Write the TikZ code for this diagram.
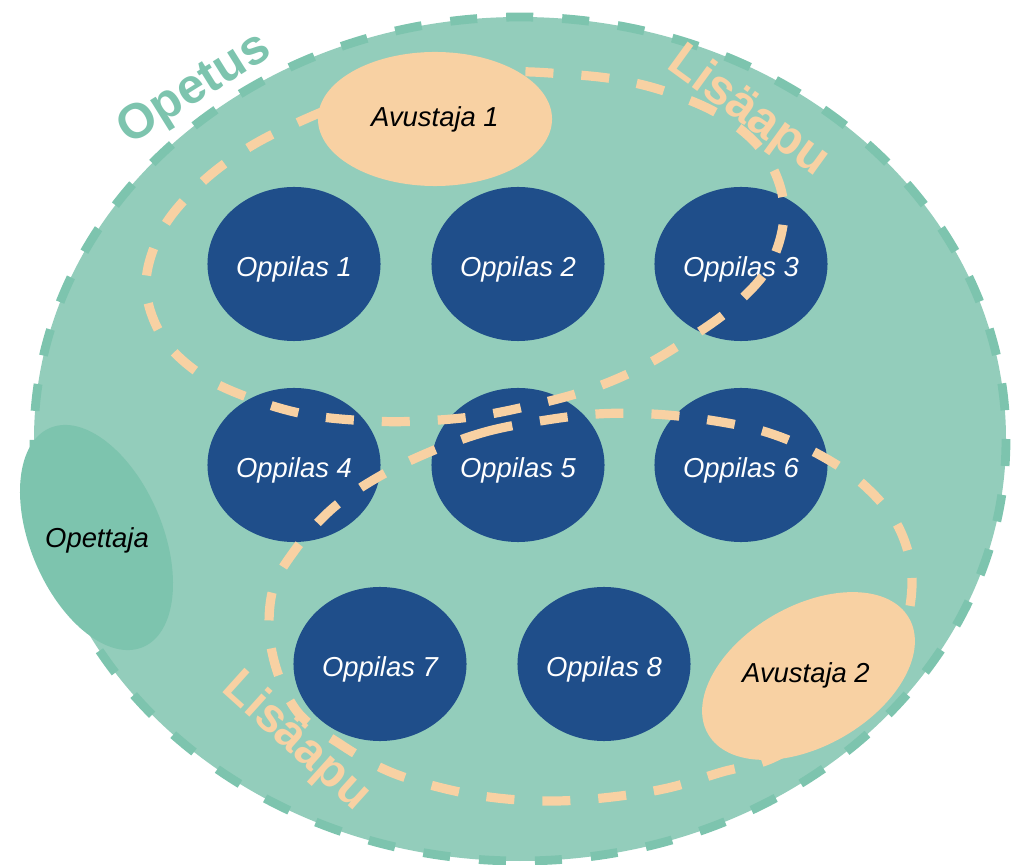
\documentclass[tikz,border=0pt]{standalone}
\usepackage{fontspec}
\setmainfont{Liberation Sans}
\usetikzlibrary{shapes.geometric}
\definecolor{OpetusFill}{RGB}{147,205,187}
\definecolor{OpetusTeal}{RGB}{125,196,174}
\definecolor{Peach}{RGB}{248,209,163}
\definecolor{OppilasBlue}{RGB}{31,78,138}

\begin{document}
\begin{tikzpicture}[x=0.025cm,y=-0.025cm,
  oppilas/.style={ellipse,fill=OppilasBlue,minimum width=4.325cm,minimum height=3.85cm,
                  inner sep=0pt,text=white,text height=18.4pt,text depth=0pt,
                  font=\fontsize{19.5}{23}\selectfont\itshape},
  avustaja/.style={fill=Peach},
  annot/.style={font=\fontsize{19.5}{23}\selectfont\itshape,text=black},
  biglabel/.style={font=\fontsize{35}{40}\selectfont\bfseries,inner sep=0pt},
  opetusedge/.style={draw=OpetusTeal,fill=OpetusFill,line width=0.22cm,
                     dash pattern=on 0.675cm off 0.725cm},
  lisaapu/.style={draw=Peach,line width=0.23cm,dash pattern=on 0.7cm off 0.7cm},
]
\useasboundingbox (0,0) rectangle (1022,865);

%% Opetus: the whole group
\draw[opetusedge] (520,439) ellipse [x radius=486, y radius=422];

%% Oppilaat
\node[oppilas] (o1) at (294,264) {Oppilas 1};
\node[oppilas] (o2) at (518,264) {Oppilas 2};
\node[oppilas] (o3) at (741,264) {Oppilas 3};
\node[oppilas] (o4) at (294,465) {Oppilas 4};
\node[oppilas] (o5) at (518,465) {Oppilas 5};
\node[oppilas] (o6) at (741,465) {Oppilas 6};
\node[oppilas] (o7) at (380,664) {Oppilas 7};
\node[oppilas] (o8) at (604,664) {Oppilas 8};

%% Lisaapu areas
\draw[lisaapu] plot[smooth cycle,tension=0.6] coordinates {
  (290,126) (360,98) (440,80) (505,72) (564,74) (620,80) (673,94) (725,118)
  (766,156) (784,208) (771,263) (735,305) (690,338) (640,368) (588,390)
  (533,405) (478,416) (422,421) (370,421) (309,415) (255,400) (203,376)
  (163,338) (146,286) (161,232) (196,188) (240,153)};
\draw[lisaapu] plot[smooth cycle,tension=0.6] coordinates {
  (432,451) (485,432) (540,421) (597,414) (652,414) (709,420) (766,432)
  (818,454) (865,486) (900,530) (912,586) (895,650) (840,715) (775,757)
  (722,772) (668,788) (612,797) (555,801) (497,798) (442,788) (388,771)
  (340,744) (296,710) (272,652) (272,593) (295,550) (333,508) (380,476)};

%% Avustajat
\node[ellipse,avustaja,minimum width=5.85cm,minimum height=3.35cm] (a1) at (435,119) {};
\node[annot] (a1t) at (a1) {Avustaja 1};
\fill[avustaja,rotate around={30:(808.5,676)}] (808.5,676) ellipse [x radius=116, y radius=70];
\node[annot] (a2t) at (806,675) {Avustaja 2};

%% Opettaja
\fill[OpetusTeal,rotate around={-67:(96.5,537.5)}] (96.5,537.5) ellipse [x radius=119, y radius=66];
\node[annot] (ope) at (97,540) {Opettaja};

%% Labels
\node[biglabel,text=OpetusTeal,rotate=32] (opetus) at (195,90) {Opetus};
\node[biglabel,text=Peach,rotate=-36] (lisa1) at (748,112) {Lisäapu};
\node[biglabel,text=Peach,rotate=-42,font=\fontsize{34}{38}\selectfont\bfseries] (lisa2) at (296,742) {Lisäapu};

\end{tikzpicture}
\end{document}
